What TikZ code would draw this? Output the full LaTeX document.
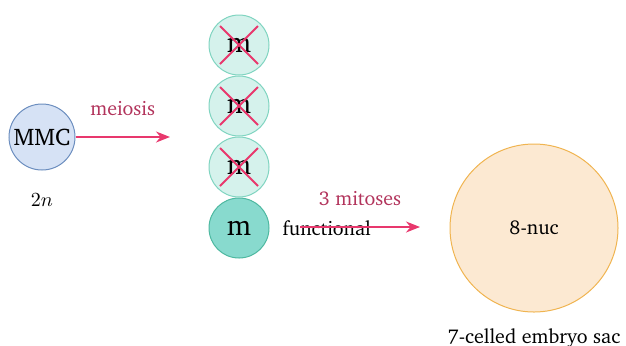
\documentclass[tikz,border=0pt]{standalone}
\usepackage[T1]{fontenc}
\usepackage{charter}
\usepackage{tikz}
\usetikzlibrary{positioning, arrows.meta, shapes.geometric, calc}
\definecolor{mmcfill}{RGB}{214, 226, 245}
\definecolor{mmcdraw}{RGB}{108, 142, 191}
\definecolor{sporefill}{RGB}{213, 242, 236}
\definecolor{sporedraw}{RGB}{127, 212, 192}
\definecolor{funcfill}{RGB}{136, 218, 206}
\definecolor{funcdraw}{RGB}{77, 184, 160}
\definecolor{sacfill}{RGB}{252, 233, 210}
\definecolor{sacdraw}{RGB}{240, 180, 80}
\definecolor{keypink}{RGB}{232, 56, 109}
\definecolor{keylabel}{RGB}{178, 52, 92}

\begin{document}
\begin{tikzpicture}[x=0.5pt, y=-0.5pt, >={Stealth[length=7pt, width=5.5pt]},
    cell/.style={circle, inner sep=0pt, line width=0.5pt},
    spore/.style={cell, draw=sporedraw, fill=sporefill, minimum size=30pt, font=\Large},
    stepflow/.style={->, keypink, line width=1pt},
    dead/.style={keypink, line width=1pt}]
  \useasboundingbox (0,0) rectangle (626,345);
  % Megaspore mother cell
  \node[cell, draw=mmcdraw, fill=mmcfill, minimum size=33pt, font=\large] (mmc) at (42,137) {MMC};
  \node[below=8pt of mmc] (ploidy) {$2n$};
  % Four megaspores
  \node[spore] (m1) at (239,45) {m};
  \node[spore, below=0pt of m1] (m2) {m};
  \node[spore, below=0pt of m2] (m3) {m};
  \node[spore, draw=funcdraw, fill=funcfill, below=0pt of m3] (m4) {m};
  \node[right=3pt of m4] (func) {functional};
  % Degenerating megaspores
  \foreach \s in {m1, m2, m3} {
    \draw[dead] ($(\s.center)+(-19,-19)$) -- ($(\s.center)+(19,19)$);
    \draw[dead] ($(\s.center)+(19,-19)$) -- ($(\s.center)+(-19,19)$);
  }
  % Embryo sac
  \node[cell, draw=sacdraw, fill=sacfill, minimum size=84pt] (sac) at (534,228) {8-nuc};
  \node[below=4.5pt of sac] (sacname) {7-celled embryo sac};
  % Arrows
  \coordinate (meioend) at (170,137);
  \coordinate (mitstart) at (300,227);
  \coordinate (mitend) at (420,227);
  \draw[stepflow] (mmc) -- node[above=7pt, keylabel]{meiosis} (meioend);
  \draw[stepflow] (mitstart) -- node[above=7pt, keylabel]{3 mitoses} (mitend);
\end{tikzpicture}
\end{document}
